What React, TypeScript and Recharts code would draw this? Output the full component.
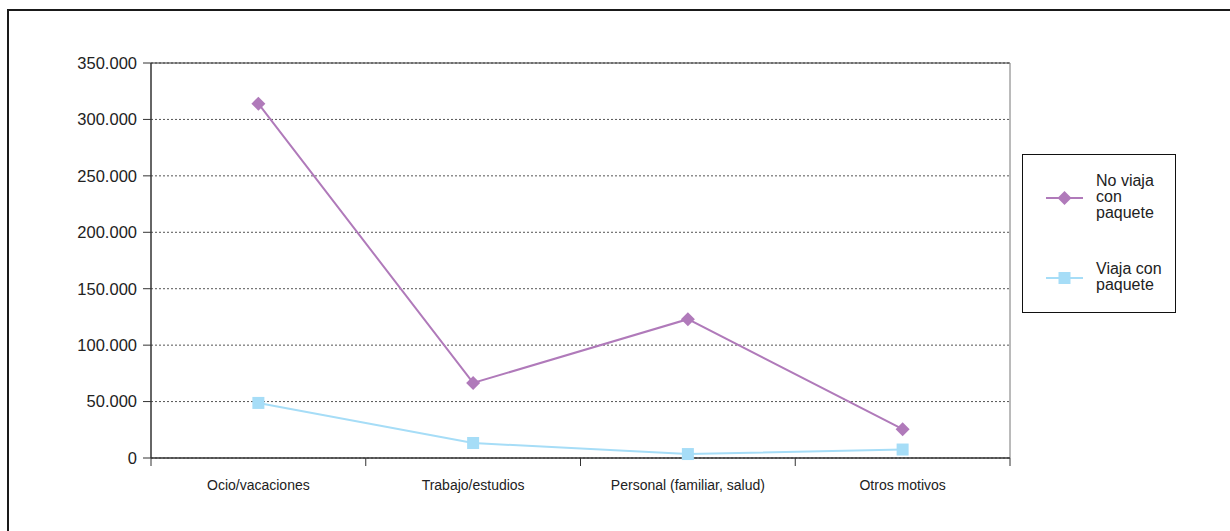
import React from 'react';
import { LineChart, Line, XAxis, YAxis, CartesianGrid, ReferenceLine } from 'recharts';

const categories = ['Ocio/vacaciones', 'Trabajo/estudios', 'Personal (familiar, salud)', 'Otros motivos'];
const noPaquete = [314000, 66500, 123000, 25500];
const conPaquete = [48800, 13300, 3500, 7500];
const yTicks = [0, 50000, 100000, 150000, 200000, 250000, 300000, 350000];

const PURPLE = '#b07aba';
const BLUE = '#a6ddf7';
const FONT = '"Liberation Sans", Arial, sans-serif';

// categories sit in the middle of each band, tick marks on band edges
const data = categories.map((name, i) => ({
  pos: i + 0.5,
  name,
  noPaquete: noPaquete[i],
  conPaquete: conPaquete[i],
}));
const xTicks = [0, 0.5, 1, 1.5, 2, 2.5, 3, 3.5, 4];

const fmt = (v: number) => String(v).replace(/\B(?=(\d{3})+(?!\d))/g, '.');

const Diamond = (props: any) => {
  const { cx, cy } = props;
  if (cx == null || cy == null) return null;
  const r = 7;
  return <path d={`M${cx},${cy - r}L${cx + r},${cy}L${cx},${cy + r}L${cx - r},${cy}Z`} fill={PURPLE} />;
};

const Square = (props: any) => {
  const { cx, cy } = props;
  if (cx == null || cy == null) return null;
  return <rect x={cx - 6} y={cy - 6} width={12} height={12} fill={BLUE} />;
};

const XTick = (props: any) => {
  const { x, y, payload } = props;
  const v = payload.value as number;
  if (Number.isInteger(v)) {
    return <line x1={x} x2={x} y1={y} y2={y + 8} stroke="#333" strokeWidth={1} />;
  }
  return (
    <text x={x} y={y + 32} textAnchor="middle" fontSize={14} fill="#222" fontFamily={FONT}>
      {categories[Math.floor(v)]}
    </text>
  );
};

const LegendBox = () => (
  <div
    style={{
      position: 'absolute',
      left: 1013,
      top: 143,
      width: 152,
      height: 157,
      border: '1px solid #111',
      fontFamily: FONT,
      fontSize: 16,
      lineHeight: '16px',
      color: '#222',
      background: '#fff',
    }}
  >
    <svg style={{ position: 'absolute', left: 0, top: 0 }} width={152} height={157}>
      <line x1={23} x2={60} y1={43} y2={43} stroke={PURPLE} strokeWidth={2} />
      <Diamond cx={41.5} cy={43} />
      <line x1={23} x2={60} y1={123} y2={123} stroke={BLUE} strokeWidth={2} />
      <Square cx={41.5} cy={123} />
    </svg>
    <div style={{ position: 'absolute', left: 73, top: 18, width: 72 }}>No viaja con paquete</div>
    <div style={{ position: 'absolute', left: 73, top: 106, width: 72 }}>Viaja con paquete</div>
  </div>
);

export default function App() {
  return (
    <div
      style={{
        position: 'absolute',
        left: 7,
        top: 9,
        width: 1240,
        height: 540,
        borderTop: '2px solid #1a1a1a',
        borderLeft: '2px solid #1a1a1a',
        background: '#fff',
      }}
    >
      <div style={{ position: 'absolute', left: 0, top: 0 }}>
        <LineChart
          width={1100}
          height={520}
          data={data}
          margin={{ top: 52, right: 99, left: 0, bottom: 33 }}
        >
          <CartesianGrid vertical={false} stroke="#555" strokeDasharray="2 2" />
          <ReferenceLine y={350000} stroke="#333" strokeWidth={1} ifOverflow="extendDomain" />
          <ReferenceLine x={4} stroke="#777" strokeWidth={1} />
          <XAxis
            dataKey="pos"
            type="number"
            domain={[0, 4]}
            ticks={xTicks}
            interval={0}
            height={40}
            tickLine={false}
            tickSize={0}
            tickMargin={0}
            tick={<XTick />}
            axisLine={{ stroke: '#333', strokeWidth: 1.5 }}
          />
          <YAxis
            width={142}
            domain={[0, 350000]}
            ticks={yTicks}
            interval={0}
            tickFormatter={fmt}
            tickSize={8}
            tickMargin={6}
            tick={{ fontSize: 16.5, fill: '#222', fontFamily: FONT }}
            tickLine={{ stroke: '#333' }}
            axisLine={{ stroke: '#333', strokeWidth: 1.5 }}
          />
          <Line
            dataKey="noPaquete"
            stroke={PURPLE}
            strokeWidth={2}
            dot={<Diamond />}
            activeDot={false}
            isAnimationActive={false}
          />
          <Line
            dataKey="conPaquete"
            stroke={BLUE}
            strokeWidth={2}
            dot={<Square />}
            activeDot={false}
            isAnimationActive={false}
          />
        </LineChart>
      </div>
      <LegendBox />
    </div>
  );
}
